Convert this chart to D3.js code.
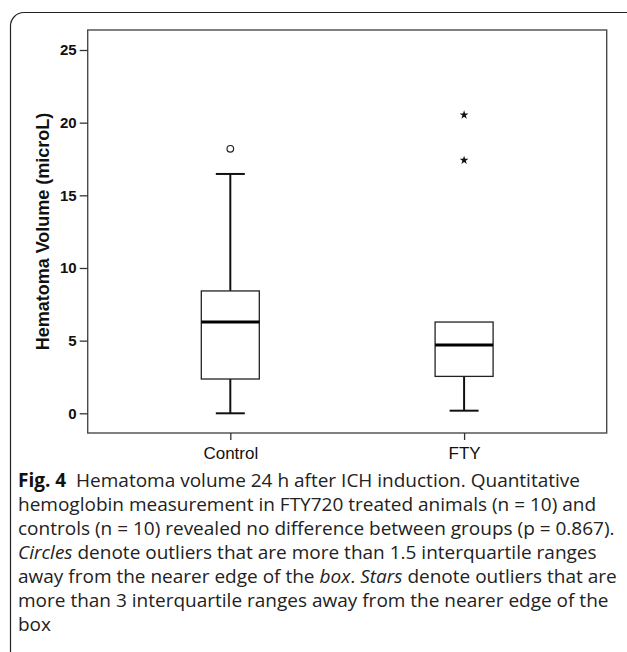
<!DOCTYPE html>
<html>
<head>
<meta charset="utf-8">
<script src="https://cdn.jsdelivr.net/npm/d3@7"></script>
<style>
  html, body { margin: 0; padding: 0; background: #fff; }
  svg { display: block; }
</style>
</head>
<body>
<svg id="chart" width="627" height="652"></svg>
<script>
// ---- data ----
const categories = ["Control", "FTY"];
const whiskerLow = [0.0, 0.18];
const q1 = [2.36, 2.54];
const median = [6.28, 4.70];
const q3 = [8.42, 6.28];
const whiskerHigh = [16.47, 6.28];
const circleOutlierCat = ["Control"];
const circleOutlierVal = [18.2];
const starOutlierCat = ["FTY", "FTY"];
const starOutlierVal = [20.53, 17.41];
const yTicks = [0, 5, 10, 15, 20, 25];
const yTitle = "Hematoma Volume (microL)";
const captionLines = [
  [{t: "Fig. 4", b: true}, {t: "  Hematoma volume 24 h after ICH induction. Quantitative"}],
  [{t: "hemoglobin measurement in FTY720 treated animals (n = 10) and"}],
  [{t: "controls (n = 10) revealed no difference between groups (p = 0.867)."}],
  [{t: "Circles", i: true}, {t: " denote outliers that are more than 1.5 interquartile ranges"}],
  [{t: "away from the nearer edge of the "}, {t: "box", i: true}, {t: ". "}, {t: "Stars", i: true}, {t: " denote outliers that are"}],
  [{t: "more than 3 interquartile ranges away from the nearer edge of the"}],
  [{t: "box"}]
];

// ---- layout ----
const svg = d3.select("#chart");
const plot = {left: 87.7, right: 606.7, top: 30, bottom: 433};

svg.append("rect").attr("width", 627).attr("height", 652).attr("fill", "#fff");

// outer figure frame (rounded top-left corner)
svg.append("path")
  .attr("d", "M10.5,652 V26 A13.5,13.5 0 0 1 24,12.5 H627")
  .attr("fill", "none").attr("stroke", "#222").attr("stroke-width", 1.2);

const y = d3.scaleLinear().domain([0, 25]).range([413.3, 50]);
const x = d3.scalePoint().domain(categories).range([plot.left, plot.right]).padding(0.61);

// plot frame
svg.append("rect")
  .attr("x", plot.left).attr("y", plot.top)
  .attr("width", plot.right - plot.left).attr("height", plot.bottom - plot.top)
  .attr("fill", "none").attr("stroke", "#4a4a4a").attr("stroke-width", 1.4);

// y axis
const yAxis = d3.axisLeft(y).tickValues(yTicks).tickSize(8).tickPadding(3).tickFormat(d3.format("d"));
const yg = svg.append("g").attr("transform", `translate(${plot.left},0)`).call(yAxis);
yg.select(".domain").remove();
yg.selectAll(".tick line").attr("stroke", "#333").attr("stroke-width", 1.3);
yg.selectAll(".tick text")
  .attr("font-family", "Liberation Sans, Arial, sans-serif")
  .attr("font-size", 15).attr("font-weight", "bold").attr("fill", "#111");

// x axis
const xAxis = d3.axisBottom(x).tickSize(7).tickPadding(3);
const xg = svg.append("g").attr("transform", `translate(0,${plot.bottom})`).call(xAxis);
xg.select(".domain").remove();
xg.selectAll(".tick line").attr("stroke", "#333").attr("stroke-width", 1.3);
xg.selectAll(".tick text")
  .attr("font-family", "Liberation Sans, Arial, sans-serif")
  .attr("font-size", 17).attr("fill", "#111").attr("dy", "0.95em");

// y title
svg.append("text")
  .attr("transform", `translate(49,${(plot.top + plot.bottom) / 2}) rotate(-90)`)
  .attr("text-anchor", "middle")
  .attr("font-family", "Liberation Sans, Arial, sans-serif")
  .attr("font-size", 18).attr("font-weight", "bold").attr("fill", "#111")
  .text(yTitle);

// boxes
const boxW = 58, capW = 29;
const g = svg.append("g");
categories.forEach((c, i) => {
  const cx = x(c);
  g.append("line").attr("x1", cx).attr("x2", cx).attr("y1", y(q3[i])).attr("y2", y(whiskerHigh[i]))
    .attr("stroke", "#111").attr("stroke-width", 2);
  g.append("line").attr("x1", cx).attr("x2", cx).attr("y1", y(q1[i])).attr("y2", y(whiskerLow[i]))
    .attr("stroke", "#111").attr("stroke-width", 2);
  if (whiskerHigh[i] > q3[i]) {
    g.append("line").attr("x1", cx - capW / 2).attr("x2", cx + capW / 2)
      .attr("y1", y(whiskerHigh[i])).attr("y2", y(whiskerHigh[i]))
      .attr("stroke", "#111").attr("stroke-width", 2);
  }
  g.append("line").attr("x1", cx - capW / 2).attr("x2", cx + capW / 2)
    .attr("y1", y(whiskerLow[i])).attr("y2", y(whiskerLow[i]))
    .attr("stroke", "#111").attr("stroke-width", 2);
  g.append("rect").attr("x", cx - boxW / 2).attr("y", y(q3[i]))
    .attr("width", boxW).attr("height", y(q1[i]) - y(q3[i]))
    .attr("fill", "#fff").attr("stroke", "#222").attr("stroke-width", 1.3);
  g.append("line").attr("x1", cx - boxW / 2).attr("x2", cx + boxW / 2)
    .attr("y1", y(median[i])).attr("y2", y(median[i]))
    .attr("stroke", "#000").attr("stroke-width", 3);
});

// circle outliers
g.selectAll(".circ").data(circleOutlierVal).enter().append("circle")
  .attr("cx", (d, i) => x(circleOutlierCat[i])).attr("cy", d => y(d)).attr("r", 3.3)
  .attr("fill", "#fff").attr("stroke", "#222").attr("stroke-width", 1.2);

// star outliers
g.selectAll(".star").data(starOutlierVal).enter().append("path")
  .attr("transform", (d, i) => `translate(${x(starOutlierCat[i])},${y(d)})`)
  .attr("d", d3.symbol().type(d3.symbolStar).size(24))
  .attr("fill", "#111");

// caption
const cap = svg.append("g")
  .attr("font-family", "Open Sans, Noto Sans, sans-serif")
  .attr("font-size", 19).attr("fill", "#222");
captionLines.forEach((segs, li) => {
  const t = cap.append("text").attr("x", 18).attr("y", 486.5 + li * 24.1)
    .attr("xml:space", "preserve").style("white-space", "pre");
  segs.forEach(s => {
    const ts = t.append("tspan").text(s.t);
    if (s.b) ts.attr("font-weight", "bold").attr("fill", "#111");
    if (s.i) ts.attr("font-style", "italic");
  });
});
</script>
</body>
</html>
